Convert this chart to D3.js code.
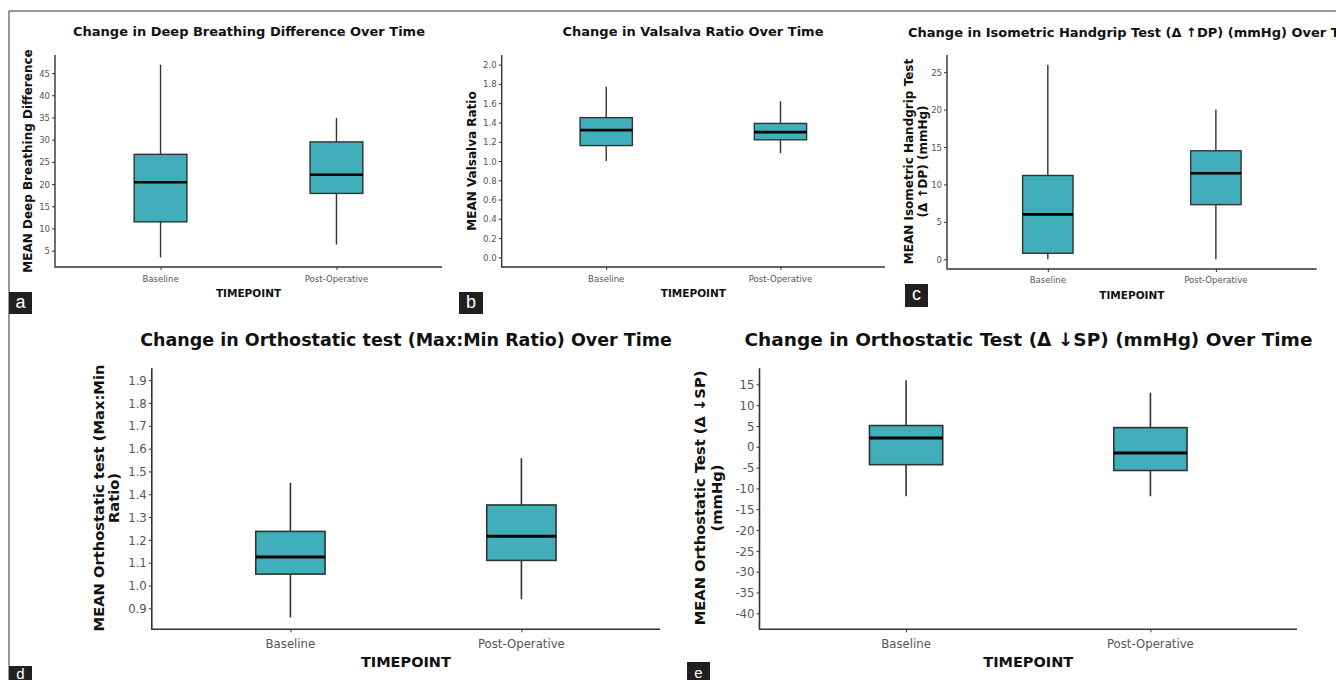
<!DOCTYPE html>
<html>
<head>
<meta charset="utf-8">
<script src="https://cdn.jsdelivr.net/npm/d3@7"></script>
<style>
  body { margin: 0; background: #fff; }
  svg { display: block; }
</style>
</head>
<body>
<svg width="1336" height="680"></svg>
<script>
const svg = d3.select("svg");

// data
const timepoints = ["Baseline", "Post-Operative"];

const deepBreathingStats = [
  { min: 3.5, q1: 11.5, median: 20.4, q3: 26.7, max: 46.9 },
  { min: 6.4, q1: 17.9, median: 22.1, q3: 29.5, max: 34.9 }
];
const valsalvaStats = [
  { min: 1.00, q1: 1.16, median: 1.32, q3: 1.45, max: 1.77 },
  { min: 1.08, q1: 1.22, median: 1.30, q3: 1.39, max: 1.62 }
];
const handgripStats = [
  { min: 0, q1: 0.8, median: 6.0, q3: 11.2, max: 26.0 },
  { min: 0, q1: 7.3, median: 11.5, q3: 14.5, max: 20.0 }
];
const maxMinStats = [
  { min: 0.86, q1: 1.05, median: 1.125, q3: 1.237, max: 1.45 },
  { min: 0.94, q1: 1.11, median: 1.216, q3: 1.353, max: 1.558 }
];
const systolicDropStats = [
  { min: -11.9, q1: -4.3, median: 2.1, q3: 5.1, max: 16.0 },
  { min: -11.9, q1: -5.7, median: -1.5, q3: 4.6, max: 13.0 }
];

const deepBreathingLimits = [3.5, 46.9];
const valsalvaLimits = [0, 2];
const handgripLimits = [0, 26];
const maxMinLimits = [0.86, 1.9];
const systolicDropLimits = [-41, 16];

const deepBreathingTicks = [5, 10, 15, 20, 25, 30, 35, 40, 45];
const valsalvaTicks = [0, 0.2, 0.4, 0.6, 0.8, 1.0, 1.2, 1.4, 1.6, 1.8, 2.0];
const handgripTicks = [0, 5, 10, 15, 20, 25];
const maxMinTicks = [0.9, 1.0, 1.1, 1.2, 1.3, 1.4, 1.5, 1.6, 1.7, 1.8, 1.9];
const systolicDropTicks = [15, 10, 5, 0, -5, -10, -15, -20, -25, -30, -35, -40];

const FILL = "#41aebb";
const SANS = "'DejaVu Sans', Verdana, sans-serif";
const COND = "'DejaVu Sans Condensed', 'DejaVu Sans', sans-serif";

const panels = [
  {
    stats: deepBreathingStats, limits: deepBreathingLimits, ticks: deepBreathingTicks, decimals: 0,
    title: "Change in Deep Breathing Difference Over Time",
    ylab: ["MEAN Deep Breathing Difference"],
    x0: 55, x1: 442, y0: 55, y1: 267,
    titleX: 249, titleY: 36, titleAnchor: "middle", titleSize: 13,
    ylabX: [28], ylabY: 161, ylabSize: 12,
    tickSize: 9.5, tickLabY: 281.5, xlabY: 297, xlabSize: 10.5,
    lw: 1.4, medW: 2.6, letter: "a", letterBox: [9, 292, 23, 22]
  },
  {
    stats: valsalvaStats, limits: valsalvaLimits, ticks: valsalvaTicks, decimals: 1,
    title: "Change in Valsalva Ratio Over Time",
    ylab: ["MEAN Valsalva Ratio"],
    x0: 501.7, x1: 885, y0: 55, y1: 267,
    titleX: 693, titleY: 36, titleAnchor: "middle", titleSize: 13,
    ylabX: [472], ylabY: 161, ylabSize: 12,
    tickSize: 9.5, tickLabY: 281.5, xlabY: 297, xlabSize: 10.5,
    lw: 1.4, medW: 2.6, letter: "b", letterBox: [459, 292, 24, 22]
  },
  {
    stats: handgripStats, limits: handgripLimits, ticks: handgripTicks, decimals: 0,
    title: "Change in Isometric Handgrip Test (\u0394 \u2191DP) (mmHg) Over Time",
    ylab: ["MEAN Isometric Handgrip Test", "(\u0394 \u2191DP) (mmHg)"],
    x0: 947, x1: 1316.7, y0: 55, y1: 269,
    titleX: 908, titleY: 37, titleAnchor: "start", titleSize: 13,
    ylabX: [909, 922.5], ylabY: 161.5, ylabSize: 12,
    tickSize: 9.5, tickLabY: 283, xlabY: 299, xlabSize: 10.5,
    lw: 1.4, medW: 2.6, letter: "c", letterBox: [905, 284, 23, 23]
  },
  {
    stats: maxMinStats, limits: maxMinLimits, ticks: maxMinTicks, decimals: 1,
    title: "Change in Orthostatic test (Max:Min Ratio) Over Time",
    ylab: ["MEAN Orthostatic test (Max:Min", "Ratio)"],
    x0: 151.8, x1: 660, y0: 368.3, y1: 629.3,
    titleX: 406, titleY: 346, titleAnchor: "middle", titleSize: 17.5,
    ylabX: [98, 113], ylabY: 498, ylabSize: 14.7,
    tickSize: 13, tickLabY: 648, xlabY: 667, xlabSize: 14.5,
    lw: 1.6, medW: 3, letter: "d", letterBox: [9, 666, 23, 14]
  },
  {
    stats: systolicDropStats, limits: systolicDropLimits, ticks: systolicDropTicks, decimals: 0,
    title: "Change in Orthostatic Test (\u0394 \u2193SP) (mmHg) Over Time",
    ylab: ["MEAN Orthostatic Test (\u0394 \u2193SP)", "(mmHg)"],
    x0: 759.5, x1: 1297, y0: 368.3, y1: 629.3,
    titleX: 1028.5, titleY: 346, titleAnchor: "middle", titleSize: 18.5,
    ylabX: [699, 716.5], ylabY: 498, ylabSize: 14.7,
    tickSize: 13, tickLabY: 648, xlabY: 667, xlabSize: 14.5,
    lw: 1.6, medW: 3, letter: "e", letterBox: [687, 662, 23, 18]
  }
];

// frame lines
svg.append("line").attr("x1", 9).attr("x2", 1336).attr("y1", 11).attr("y2", 11)
  .attr("stroke", "#333").attr("stroke-width", 1);
svg.append("line").attr("x1", 9).attr("x2", 9).attr("y1", 11).attr("y2", 680)
  .attr("stroke", "#333").attr("stroke-width", 1);

panels.forEach(p => {
  const g = svg.append("g");
  const pad = (p.limits[1] - p.limits[0]) * 0.05;

  const y = d3.scaleLinear()
    .domain([p.limits[0] - pad, p.limits[1] + pad])
    .range([p.y1, p.y0]);

  const x = d3.scalePoint()
    .domain(timepoints)
    .range([p.x0, p.x1])
    .padding(0.6);

  const boxW = x.step() * 0.3;

  // y axis
  const yAxis = g.append("g")
    .attr("transform", `translate(${p.x0},0)`)
    .call(d3.axisLeft(y).tickValues(p.ticks).tickSize(3).tickPadding(2)
      .tickFormat(d => d.toFixed(p.decimals)));
  yAxis.select(".domain").remove();
  yAxis.selectAll(".tick line").attr("stroke", "#333");
  yAxis.selectAll("text").attr("fill", "#555")
    .style("font-family", COND).style("font-size", p.tickSize + "px");

  // x axis ticks
  const xAxis = g.append("g")
    .attr("transform", `translate(0,${p.y1})`)
    .call(d3.axisBottom(x).tickSize(3).tickFormat(""));
  xAxis.select(".domain").remove();
  xAxis.selectAll(".tick line").attr("stroke", "#333");

  g.selectAll(".xlab")
    .data(timepoints)
    .join("text")
    .attr("x", d => x(d))
    .attr("y", p.tickLabY)
    .attr("text-anchor", "middle")
    .attr("fill", "#555")
    .style("font-family", COND)
    .style("font-size", p.tickSize + "px")
    .text(d => d);

  // axis lines
  g.append("path")
    .attr("d", `M${p.x0},${p.y0}V${p.y1}H${p.x1}`)
    .attr("fill", "none")
    .attr("stroke", "#333")
    .attr("stroke-width", p.lw);

  // boxes
  const boxes = g.selectAll(".box")
    .data(p.stats)
    .join("g");

  boxes.append("line")
    .attr("x1", (d, i) => x(timepoints[i]))
    .attr("x2", (d, i) => x(timepoints[i]))
    .attr("y1", d => y(d.min))
    .attr("y2", d => y(d.max))
    .attr("stroke", "#333")
    .attr("stroke-width", p.lw);

  boxes.append("rect")
    .attr("x", (d, i) => x(timepoints[i]) - boxW / 2)
    .attr("width", boxW)
    .attr("y", d => y(d.q3))
    .attr("height", d => y(d.q1) - y(d.q3))
    .attr("fill", FILL)
    .attr("stroke", "#333")
    .attr("stroke-width", p.lw);

  boxes.append("line")
    .attr("x1", (d, i) => x(timepoints[i]) - boxW / 2)
    .attr("x2", (d, i) => x(timepoints[i]) + boxW / 2)
    .attr("y1", d => y(d.median))
    .attr("y2", d => y(d.median))
    .attr("stroke", "#000")
    .attr("stroke-width", p.medW);

  // title
  g.append("text")
    .attr("x", p.titleX)
    .attr("y", p.titleY)
    .attr("text-anchor", p.titleAnchor)
    .style("font-family", SANS)
    .style("font-weight", "bold")
    .style("font-size", p.titleSize + "px")
    .attr("fill", "#111")
    .text(p.title);

  // x title
  g.append("text")
    .attr("x", (p.x0 + p.x1) / 2)
    .attr("y", p.xlabY)
    .attr("text-anchor", "middle")
    .style("font-family", SANS)
    .style("font-weight", "bold")
    .style("font-size", p.xlabSize + "px")
    .attr("fill", "#111")
    .text("TIMEPOINT");

  // y title (one or two lines)
  p.ylab.forEach((line, i) => {
    g.append("text")
      .attr("transform", `translate(${p.ylabX[i]},${p.ylabY}) rotate(-90)`)
      .attr("text-anchor", "middle")
      .attr("dominant-baseline", "central")
      .style("font-family", SANS)
      .style("font-weight", "bold")
      .style("font-size", p.ylabSize + "px")
      .attr("fill", "#111")
      .text(line);
  });

  // panel letter
  const [lx, ly, lw, lh] = p.letterBox;
  g.append("rect")
    .attr("x", lx).attr("y", ly).attr("width", lw).attr("height", lh)
    .attr("fill", "#231f20");
  g.append("text")
    .attr("x", lx + lw / 2)
    .attr("y", Math.min(ly + 16, 679))
    .attr("text-anchor", "middle")
    .attr("fill", "#fff")
    .style("font-family", "'Liberation Sans', Arial, sans-serif")
    .style("font-size", (lh < 20 ? 15 : 18) + "px")
    .text(p.letter);
});
</script>
</body>
</html>
